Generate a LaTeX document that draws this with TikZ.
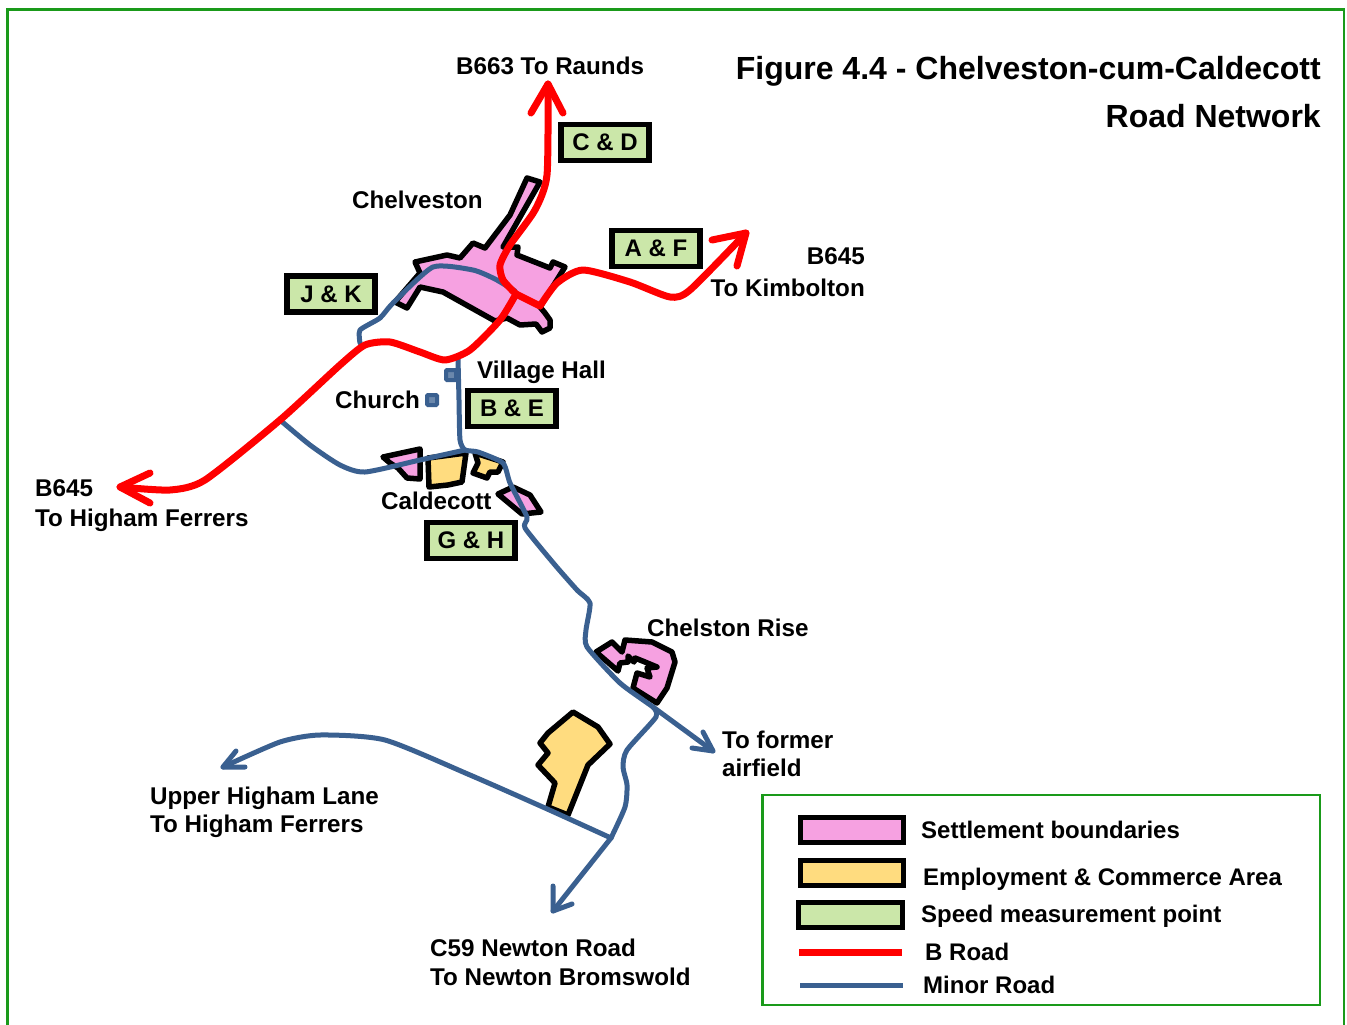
\documentclass[tikz,border=0pt]{standalone}
\usepackage{fontspec}
\setmainfont{Liberation Sans}
\usetikzlibrary{arrows.meta}
\definecolor{pinkfill}{HTML}{F6A1E1}
\definecolor{yellowfill}{HTML}{FFDC7F}
\definecolor{greenfill}{HTML}{CBE7A9}
\definecolor{bluerd}{HTML}{3A6090}
\definecolor{redrd}{HTML}{FF0000}
\definecolor{frame}{HTML}{1A9A1A}
\tikzset{
 x=1pt,y=-1pt,
 lab/.style={font=\fontsize{24.2}{28}\selectfont\bfseries,anchor=base west,inner sep=0pt,text=black},
 leglab/.style={font=\fontsize{24}{28}\selectfont\bfseries,anchor=base west,inner sep=0pt,text=black},
 title/.style={font=\fontsize{32}{38}\selectfont\bfseries,anchor=base east,inner sep=0pt,text=black},
 speedbox/.style={draw=black,line width=5.5pt,fill=greenfill,minimum width=88pt,minimum height=36pt,inner sep=0pt,font=\fontsize{24}{28}\selectfont\bfseries},
 areashape/.style={draw=black,line width=5.5pt,line join=round},
 bline/.style={draw=redrd,line width=7pt,line join=round,line cap=round},
 mline/.style={draw=bluerd,line width=5pt,line join=round,line cap=round},
 marker/.style={draw=bluerd,line width=4pt,fill=bluerd!75!white,minimum size=10pt,inner sep=0pt,rounded corners=1pt},
 legbox/.style={draw=black,line width=5pt,minimum width=103pt,inner sep=0pt},
}
\begin{document}
\begin{tikzpicture}
\useasboundingbox (0,0) rectangle (1347,1025);
\draw[frame,line width=2.5pt] (7.5,1030) -- (7.5,9.5) -- (1344,9.5) -- (1344,1030);

% settlement areas
\draw[areashape,fill=pinkfill] (527,178) -- (540,182) -- (503,247) -- (518,247) -- (517,255) -- (550,268) -- (553,262) -- (565,267) -- (540,307) -- (545,313) -- (550,320) -- (550,328) -- (542,332) -- (536,324) -- (520,325) -- (507,318) -- (495,321) -- (443,292) -- (420,287) -- (407,308) -- (395,302) -- (420,273) -- (415,262) -- (447,255) -- (460,258) -- (473,243) -- (485,248) -- (510,215) -- cycle;
\draw[areashape,fill=pinkfill] (383,457) -- (420,449) -- (420,479) -- (407,478) -- (398,468) -- (390,463) -- cycle;
\draw[areashape,fill=yellowfill] (428,458) -- (466,453) -- (462,482) -- (448,485) -- (429,487) -- cycle;
\draw[areashape,fill=yellowfill] (475,453) -- (503,462) -- (498,472) -- (490,472) -- (487,478) -- (473,473) -- (478,463) -- cycle;
\draw[areashape,fill=pinkfill] (498,494) -- (513,487) -- (530,495) -- (541,512) -- (522,514) -- cycle;
\draw[areashape,fill=pinkfill] (596,652) -- (612,642) -- (622,652) -- (625,640) -- (652,642) -- (672,652) -- (675,662) -- (667,688) -- (657,703) -- (633,688) -- (637,673) -- (650,677) -- (647,668) -- (657,667) -- (645,662) -- (635,658) -- (634,662) -- (628,656) -- (628,662) -- (620,663) -- (618,671) -- cycle;
\draw[areashape,fill=yellowfill] (573,712) -- (598,727) -- (610,744) -- (588,765) -- (568,815) -- (548,807) -- (555,783) -- (538,765) -- (548,753) -- (540,743) -- (548,733) -- cycle;

% minor roads
\coordinate (mA) at (360,343);
\coordinate (mJ) at (515,291);
\coordinate (mV) at (458,358);
\coordinate (mC) at (465,450);
\coordinate (mF) at (653,707);
\coordinate (mN) at (611,838);
\coordinate (tipAir) at (713,751);
\coordinate (tipNew) at (553,911);
\coordinate (tipUp) at (223,767);
\coordinate (mW) at (280,420);
\draw[mline] plot[smooth,tension=.35] coordinates {(mA) (360,330) (380,318) (393,303) (433,267) (473,270) (495,279) (mJ)};
\draw[mline] plot[smooth,tension=.35] coordinates {(mV) (459,400) (460,440) (mC) (478,452) (503,463) (510,483) (527,517) (525,528) (555,565) (577,590) (590,603) (586,630) (587,647) (620,683) (mF) (tipAir)};
\draw[mline] plot[smooth,tension=.4] coordinates {(mF) (656,717) (627,750) (623,767) (627,785) (625,807) (mN)};
\draw[mline] (mN) -- (tipNew);
\draw[mline] (553,886) -- (tipNew) -- (572,904);
\draw[mline] (703,732) -- (tipAir) -- (692,748);
\draw[mline] plot[smooth,tension=.4] coordinates {(mW) (310,445) (340,465) (365,472) (420,460) (mC)};
\draw[mline] plot[smooth,tension=.4] coordinates {(mN) (545,808) (470,775) (385,740) (320,735) (280,742) (tipUp)};
\draw[mline] (236,751) -- (tipUp) -- (245,767);

% B roads
\coordinate (bN) at (548,84);
\coordinate (bJ) at (516,294);
\coordinate (bE) at (746,233);
\coordinate (bW) at (120,487);
\draw[bline] plot[smooth,tension=.4] coordinates {(bN) (547,175) (535,210) (510,245) (500,265) (503,280) (bJ)};
\draw[bline] plot[smooth,tension=.4] coordinates {(bJ) (500,320) (470,350) (445,360) (420,352) (390,342) (365,345) (340,365) (280,420) (205,480) (170,490) (bW)};
\draw[bline] (bJ) -- (540,306);
\draw[bline] plot[smooth,tension=.4] coordinates {(540,306) (557,283) (583,270) (630,282) (670,297) (690,290) (bE)};
\draw[bline] (531,113) -- (bN) -- (563,113);
\draw[bline] (150,473) -- (bW) -- (150,503);
\draw[bline] (712,240) -- (bE) -- (737,266);

% markers
\node[marker] (hall) at (451,375) {};
\node[marker] (church) at (432,400) {};

% speed boxes
\node[speedbox] (cd) at (605,142.5) {C \& D};
\node[speedbox] (af) at (656,248.5) {A \& F};
\node[speedbox] (jk) at (331,294) {J \& K};
\node[speedbox] (be) at (512,408.5) {B \& E};
\node[speedbox] (gh) at (471,540.5) {G \& H};

% labels
\node[lab] (t1) at (456,74.5) {B663 To Raunds};
\node[title] (t2) at (1321,79) {Figure 4.4 - Chelveston-cum-Caldecott};
\node[title] (t3) at (1321,127) {Road Network};
\node[lab] (t4) at (352,208) {Chelveston};
\node[lab,anchor=base east] (t5) at (865,264) {B645};
\node[lab,anchor=base east] (t6) at (865,296) {To Kimbolton};
\node[lab] (t7) at (477,378) {Village Hall};
\node[lab] (t8) at (335,408) {Church};
\node[lab] (t9) at (35,496) {B645};
\node[lab] (t10) at (35,526) {To Higham Ferrers};
\node[lab] (t11) at (381,509) {Caldecott};
\node[lab] (t12) at (647,636) {Chelston Rise};
\node[lab] (t13) at (722,748) {To former};
\node[lab] (t14) at (722,776) {airfield};
\node[lab] (t15) at (150,804) {Upper Higham Lane};
\node[lab] (t16) at (150,832) {To Higham Ferrers};
\node[lab] (t17) at (430,956) {C59 Newton Road};
\node[lab] (t18) at (430,985) {To Newton Bromswold};

% legend
\draw[frame,line width=2.5pt] (762.5,795) rectangle (1320,1005);
\node[legbox,fill=pinkfill,minimum height=25pt] (l1) at (852,830) {};
\node[legbox,fill=yellowfill,minimum height=25pt] (l2) at (852,873) {};
\node[legbox,fill=greenfill,minimum height=25pt,minimum width=104pt] (l3) at (850,915) {};
\coordinate (l4a) at (799,952); \coordinate (l4b) at (902,952);
\coordinate (l5a) at (800,985); \coordinate (l5b) at (903,985);
\draw[draw=redrd,line width=7pt] (l4a) -- (l4b);
\draw[draw=bluerd,line width=5pt] (l5a) -- (l5b);
\node[leglab] (k1) at (921,838) {Settlement boundaries};
\node[leglab] (k2) at (923,885) {Employment \& Commerce Area};
\node[leglab] (k3) at (921,922) {Speed measurement point};
\node[leglab] (k4) at (925,960) {B Road};
\node[leglab] (k5) at (923,993) {Minor Road};
\end{tikzpicture}
\end{document}
